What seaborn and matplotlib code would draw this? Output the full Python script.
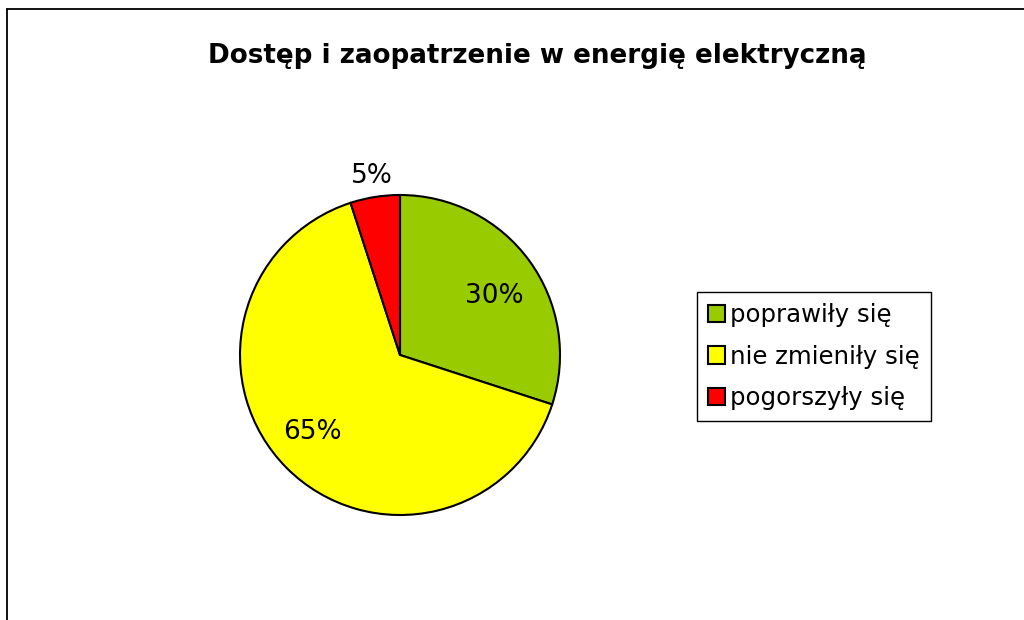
import matplotlib.pyplot as plt
import seaborn as sns
from matplotlib.lines import Line2D
import numpy as np

# data
categories = ['poprawiły się', 'nie zmieniły się', 'pogorszyły się']
shares = [30, 65, 5]
colors = ['#99CC00', '#FFFF00', '#FF0000']
title = 'Dostęp i zaopatrzenie w energię elektryczną'

sns.set_theme(style='white')
plt.rcParams['font.family'] = ['DejaVu Sans']
plt.rcParams['text.color'] = 'black'

fig = plt.figure(figsize=(10.24, 6.2), dpi=100)
fig.patch.set_facecolor('white')

# pie axes: centre at (400, 355) px, radius ~160 px
ax = fig.add_axes([240 / 1024, (620 - 355 - 160) / 620, 320 / 1024, 320 / 620])
wedges, texts, autotexts = ax.pie(
    shares, colors=colors, startangle=90, counterclock=False,
    autopct='%1.0f%%', pctdistance=0.7,
    wedgeprops=dict(edgecolor='black', linewidth=1.5),
    textprops=dict(fontsize=19, color='black'))
ax.set_xlim(-1, 1)
ax.set_ylim(-1, 1)
ax.set_aspect('equal')
ax.axis('off')

# small slice label sits outside the pie
w = wedges[2]
mid = np.deg2rad((w.theta1 + w.theta2) / 2)
autotexts[2].set_position((1.13 * np.cos(mid), 1.13 * np.sin(mid)))
autotexts[0].set_position((0.59, 0.37))
autotexts[1].set_position((-0.55, -0.48))
for t in autotexts:
    t.set_clip_on(False)

fig.text(537 / 1024, 1 - 56 / 620, title, ha='center', va='center',
         fontsize=18.8, fontweight='bold', color='black')

leg = fig.legend(wedges, categories, loc='upper left',
                 bbox_to_anchor=(697 / 1024, 1 - 292 / 620),
                 prop=dict(size=17.6), frameon=True, fancybox=False,
                 framealpha=1, edgecolor='black',
                 handlelength=0.7, handleheight=0.7,
                 handletextpad=0.2, labelspacing=0.72, borderpad=0.45,
                 borderaxespad=0)
leg.get_frame().set_linewidth(1.0)
for h in leg.legend_handles:
    h.set_linewidth(1.5)
for t in leg.get_texts():
    t.set_color('black')

# chart-area frame, cut off at right and bottom
fig.add_artist(Line2D([7 / 1024, 1], [1 - 9 / 620, 1 - 9 / 620], color='black', lw=1.3))
fig.add_artist(Line2D([7 / 1024, 7 / 1024], [0, 1 - 9 / 620], color='black', lw=1.3))

fig.savefig('out.png', dpi=100)
